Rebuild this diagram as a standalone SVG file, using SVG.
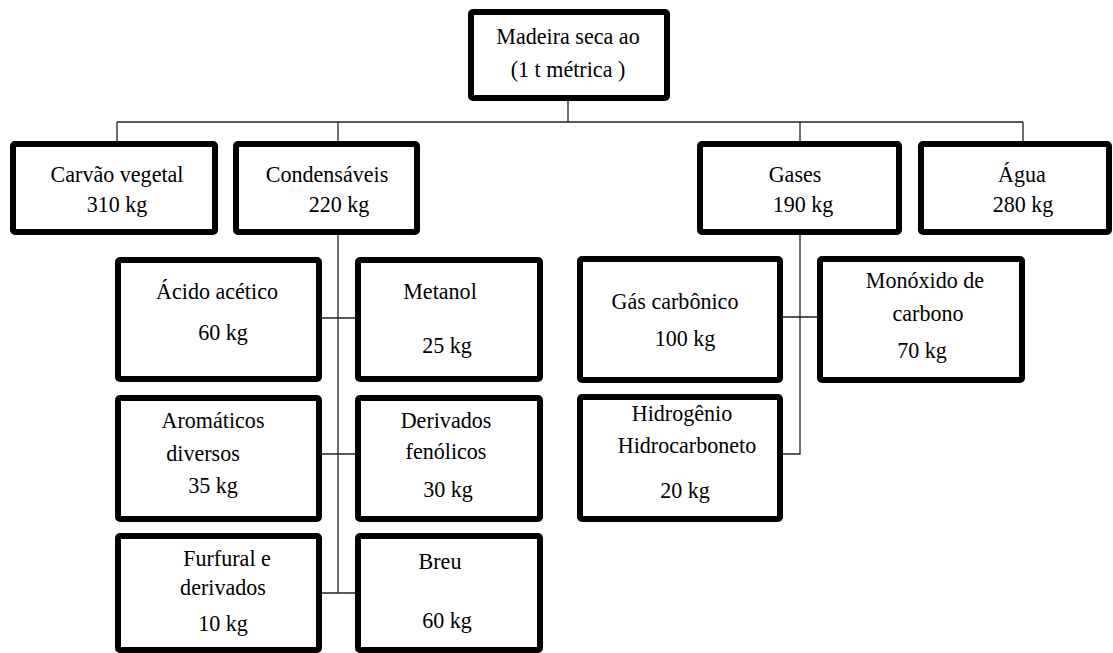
<svg xmlns="http://www.w3.org/2000/svg" width="1113" height="653" viewBox="0 0 1113 653">
<style>
.box{fill:#fff;stroke:#000;stroke-width:6;}
.t{font-size:24px;fill:#000;text-anchor:middle;}
.c{fill:none;stroke:#222;stroke-width:1.3;}
</style>
<rect width="1113" height="653" fill="#fff"/>
<g id="connectors">
<path class="c" d="M568,100 V122 M117,122 H1023 M117,122 V141 M338,122 V141 M800,122 V141 M1023,122 V141"/>
<path class="c" d="M338,235 V593 M322,318 H355 M322,454 H355 M322,593 H355"/>
<path class="c" d="M800,235 V454 H783 M783,317 H817"/>
</g>
<g font-family="Liberation Serif">
<g id="n-madeira"><rect class="box" x="471" y="12" width="196" height="86" rx="2"/><text class="t" transform="translate(568 44) scale(0.92 1)">Madeira seca ao</text><text class="t" transform="translate(568 77) scale(0.92 1)">(1 t métrica )</text></g>
<g id="n-carvao"><rect class="box" x="13" y="144" width="202" height="88" rx="2"/><text class="t" transform="translate(117 182) scale(0.92 1)">Carvão vegetal</text><text class="t" transform="translate(117 212) scale(0.92 1)">310 kg</text></g>
<g id="n-condensaveis"><rect class="box" x="236" y="144" width="181" height="88" rx="2"/><text class="t" transform="translate(327 182) scale(0.92 1)">Condensáveis</text><text class="t" transform="translate(339 212) scale(0.92 1)">220 kg</text></g>
<g id="n-gases"><rect class="box" x="700" y="144" width="199" height="88" rx="2"/><text class="t" transform="translate(795 182) scale(0.92 1)">Gases</text><text class="t" transform="translate(803 212) scale(0.92 1)">190 kg</text></g>
<g id="n-agua"><rect class="box" x="921" y="144" width="188" height="88" rx="2"/><text class="t" transform="translate(1022 182) scale(0.92 1)">Água</text><text class="t" transform="translate(1023 212) scale(0.92 1)">280 kg</text></g>
<g id="n-acido"><rect class="box" x="118" y="260" width="201" height="119" rx="2"/><text class="t" transform="translate(217 299) scale(0.92 1)">Ácido acético</text><text class="t" transform="translate(223 340) scale(0.92 1)">60 kg</text></g>
<g id="n-metanol"><rect class="box" x="358" y="260" width="182" height="119" rx="2"/><text class="t" transform="translate(440 299) scale(0.92 1)">Metanol</text><text class="t" transform="translate(447 353) scale(0.92 1)">25 kg</text></g>
<g id="n-aromaticos"><rect class="box" x="118" y="398" width="201" height="121" rx="2"/><text class="t" transform="translate(213 428) scale(0.92 1)">Aromáticos</text><text class="t" transform="translate(203 461) scale(0.92 1)">diversos</text><text class="t" transform="translate(213 493) scale(0.92 1)">35 kg</text></g>
<g id="n-fenolicos"><rect class="box" x="358" y="398" width="182" height="121" rx="2"/><text class="t" transform="translate(446 428) scale(0.92 1)">Derivados</text><text class="t" transform="translate(446 459) scale(0.92 1)">fenólicos</text><text class="t" transform="translate(448 497) scale(0.92 1)">30 kg</text></g>
<g id="n-furfural"><rect class="box" x="118" y="536" width="201" height="114" rx="2"/><text class="t" transform="translate(227 566) scale(0.92 1)">Furfural e</text><text class="t" transform="translate(223 595) scale(0.92 1)">derivados</text><text class="t" transform="translate(223 631) scale(0.92 1)">10 kg</text></g>
<g id="n-breu"><rect class="box" x="358" y="536" width="182" height="114" rx="2"/><text class="t" transform="translate(440 569) scale(0.92 1)">Breu</text><text class="t" transform="translate(447 628) scale(0.92 1)">60 kg</text></g>
<g id="n-gascarb"><rect class="box" x="580" y="259" width="200" height="121" rx="2"/><text class="t" transform="translate(675 309) scale(0.92 1)">Gás carbônico</text><text class="t" transform="translate(685 346) scale(0.92 1)">100 kg</text></g>
<g id="n-monoxido"><rect class="box" x="820" y="259" width="202" height="121" rx="2"/><text class="t" transform="translate(925 288) scale(0.92 1)">Monóxido de</text><text class="t" transform="translate(928 321) scale(0.92 1)">carbono</text><text class="t" transform="translate(922 358) scale(0.92 1)">70 kg</text></g>
<g id="n-hidro"><rect class="box" x="580" y="397" width="200" height="122" rx="2"/><text class="t" transform="translate(682 421) scale(0.92 1)">Hidrogênio</text><text class="t" transform="translate(687 453) scale(0.92 1)">Hidrocarboneto</text><text class="t" transform="translate(685 498) scale(0.92 1)">20 kg</text></g>
</g>
</svg>
